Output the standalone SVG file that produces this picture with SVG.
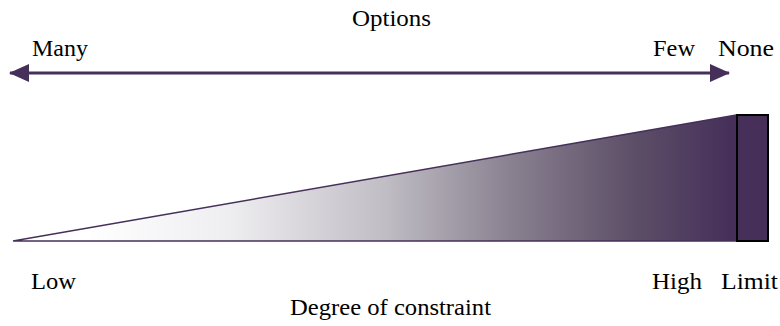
<svg xmlns="http://www.w3.org/2000/svg" width="780" height="326" viewBox="0 0 780 326">
  <style>
    .lbl { font-family: "Liberation Serif", "Times New Roman", serif; font-size: 23px; fill: #000; }
    .axis { stroke: #46305a; stroke-width: 3; fill: none; }
  </style>
  <defs>
    <!-- white on the low side, deepening to dark purple at the limit -->
    <linearGradient id="constraint" x1="13" y1="0" x2="737" y2="0" gradientUnits="userSpaceOnUse">
      <stop offset="0.1" stop-color="#ffffff"/>
      <stop offset="0.3" stop-color="#eeedf0"/>
      <stop offset="0.514" stop-color="#c0bdc4"/>
      <stop offset="0.684" stop-color="#8a8291"/>
      <stop offset="0.852" stop-color="#5e5068"/>
      <stop offset="0.99" stop-color="#46305a"/>
    </linearGradient>
    <marker id="head" viewBox="0 0 20 18" refX="19" refY="9" markerWidth="20" markerHeight="18" markerUnits="userSpaceOnUse" orient="auto-start-reverse">
      <path d="M0,0 L20,9 L0,18 Z" fill="#46305a"/>
    </marker>
  </defs>

  <g id="options-axis">
    <line class="axis" x1="10" y1="73" x2="729" y2="73" marker-start="url(#head)" marker-end="url(#head)"/>
  </g>

  <g id="wedge">
    <polygon points="13,241 737,115 737,241" fill="url(#constraint)" stroke="#46305a" stroke-width="1.5"/>
  </g>

  <g id="limit">
    <rect x="737" y="115" width="31" height="126" fill="#46305a" stroke="#000" stroke-width="2"/>
  </g>

  <g id="labels">
    <text class="lbl" x="352" y="26" textLength="79" lengthAdjust="spacingAndGlyphs">Options</text>
    <text class="lbl" x="32" y="56" textLength="56" lengthAdjust="spacingAndGlyphs">Many</text>
    <text class="lbl" x="653" y="56" textLength="42" lengthAdjust="spacingAndGlyphs">Few</text>
    <text class="lbl" x="718" y="56" textLength="56" lengthAdjust="spacingAndGlyphs">None</text>
    <text class="lbl" x="31" y="289" textLength="45" lengthAdjust="spacingAndGlyphs">Low</text>
    <text class="lbl" x="652" y="289" textLength="50" lengthAdjust="spacingAndGlyphs">High</text>
    <text class="lbl" x="721" y="289" textLength="57" lengthAdjust="spacingAndGlyphs">Limit</text>
    <text class="lbl" x="290" y="315" textLength="201" lengthAdjust="spacingAndGlyphs">Degree of constraint</text>
  </g>
</svg>
